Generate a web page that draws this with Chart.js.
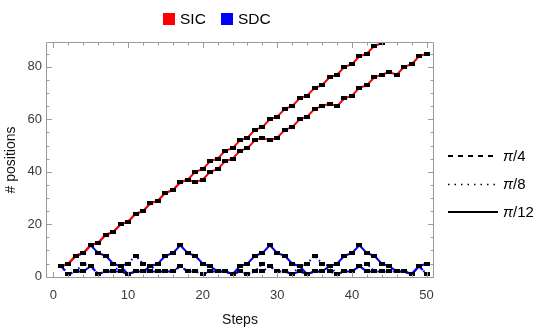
<!DOCTYPE html>
<html><head><meta charset="utf-8">
<script src="https://cdn.jsdelivr.net/npm/chart.js@4.4.0/dist/chart.umd.min.js"></script>
<style>
html,body{margin:0;padding:0;background:#fff;}
#wrap{position:relative;width:545px;height:330px;overflow:hidden;}
#c{position:absolute;left:0;top:0;}
.t{position:absolute;font-family:"Liberation Sans",Arial,sans-serif;color:#000;white-space:nowrap;line-height:18px;}
.box{position:absolute;width:12px;height:12px;}
svg{position:absolute;left:0;top:0;}
</style></head><body>
<div id="wrap">
<canvas id="c" width="545" height="330"></canvas>
<div class="box" style="left:163px;top:13px;background:#ff0000"></div>
<div class="t" style="left:180px;top:10px;font-size:15.5px">SIC</div>
<div class="box" style="left:221px;top:13px;background:#0000ff"></div>
<div class="t" style="left:238px;top:10px;font-size:15.5px">SDC</div>
<svg width="545" height="330">
<line x1="448" y1="156" x2="498" y2="156" stroke="#000" stroke-width="2" stroke-dasharray="5,5"/>
<line x1="448" y1="184.5" x2="498" y2="184.5" stroke="#000" stroke-width="1.5" stroke-dasharray="1.5,5"/>
<line x1="448" y1="212" x2="498" y2="212" stroke="#000" stroke-width="2"/>
</svg>
<div class="t" style="left:503px;top:147px;font-size:15px"><i>π</i>/4</div>
<div class="t" style="left:503px;top:175px;font-size:15px"><i>π</i>/8</div>
<div class="t" style="left:503px;top:203px;font-size:15px"><i>π</i>/12</div>
</div>
<script>
// ---- data ----
const steps = [1,2,3,4,5,6,7,8,9,10,11,12,13,14,15,16,17,18,19,20,21,22,23,24,25,26,27,28,29,30,31,32,33,34,35,36,37,38,39,40,41,42,43,44,45,46,47,48,49,50];
const sicA = [4,5,8,9,12,13,16,17,20,21,24,25,28,29,32,33,36,37,40,41,44,45,48,49,52,53,56,57,60,61,64,65,68,69,72,73,76,77,80,81,84,85,88,89];
const sicB = [4,5,8,9,12,13,16,17,20,21,24,25,28,29,32,33,36,37,36,37,40,41,44,45,48,49,52,53,52,53,56,57,60,61,64,65,66,65,68,69,72,73,76,77,78,77,80,81,84,85];
const sdcA = [4,5,8,9,12,9,8,5,4,1,2,2,4,5,8,9,12,9,8,5,4,2,2,1,4,5,8,9,12,9,8,5,4,1,2,2,4,5,8,9,12,9,8,5,4,2,2,1,4,5];
const sdcB = [4,1,2,2,4,1,2,2,2,1,2,2,2,2,2,2,4,2,2,1,2,2,2,1,2,1,2,2,4,2,2,1,2,1,2,2,2,1,2,2,4,2,2,2,2,2,2,1,4,1];
const sdcC = [4,1,2,5,4,1,2,2,4,5,8,5,4,2,2,2,4,2,2,1,2,2,2,1,2,1,2,5,4,2,2,1,4,5,8,5,4,1,2,2,4,5,2,2,2,2,2,1,4,1];
const xTickLabels = [0,10,20,30,40,50];
const yTickLabels = [0,20,40,60,80];

const pts = v => v.map((y,i)=>({x:steps[i], y}));
const mark = document.createElement('canvas');
mark.width=6; mark.height=4;
(()=>{const g=mark.getContext('2d'); g.fillStyle='#000'; g.fillRect(0,0,6,4);})();
const lineDs = (vals,color,dash)=>({data:pts(vals),borderColor:color,borderWidth:2,borderDash:dash,pointRadius:0,fill:false,tension:0,order:2});
const markDs = (vals)=>({data:pts(vals),showLine:false,pointStyle:mark,pointRadius:3,order:1});

const frame = {
  id:'frame',
  afterDatasetsDraw(chart){
    const {ctx, chartArea:a, scales:{x,y}} = chart;
    ctx.save();
    ctx.strokeStyle='#9a9a9a'; ctx.lineWidth=1;
    const L=Math.round(a.left)+0.5, R=Math.round(a.right)-0.5, T=Math.round(a.top)+0.5, B=Math.round(a.bottom)-0.5;
    ctx.beginPath(); ctx.rect(L,T,R-L,B-T); ctx.stroke();
    ctx.beginPath();
    for(let v=0; v<=50; v+=2){
      const px=Math.round(x.getPixelForValue(v))+0.5, len = v%10===0?5.5:3;
      ctx.moveTo(px,B); ctx.lineTo(px,B-len); ctx.moveTo(px,T); ctx.lineTo(px,T+len);
    }
    for(let v=0; v<=85; v+=5){
      const py=Math.round(y.getPixelForValue(v))+0.5, len = v%20===0?5.5:3;
      ctx.moveTo(L,py); ctx.lineTo(L+len,py); ctx.moveTo(R,py); ctx.lineTo(R-len,py);
    }
    ctx.stroke();
    ctx.restore();
  }
};

new Chart(document.getElementById('c'),{
  type:'line',
  data:{datasets:[
    lineDs(sicA,'#ff0000',[]), lineDs(sicB,'#ff0000',[]),
    lineDs(sdcC,'#0000ff',[1.5,3]), lineDs(sdcB,'#0000ff',[6,3]), lineDs(sdcA,'#0000ff',[]),
    markDs(sicA), markDs(sicB), markDs(sdcA), markDs(sdcB), markDs(sdcC)
  ]},
  options:{
    responsive:false, animation:false, devicePixelRatio:1,
    layout:{padding:{top:42,right:111,left:0,bottom:0}},
    plugins:{legend:{display:false},tooltip:{enabled:false}},
    scales:{
      x:{type:'linear',min:-1,max:51,
        afterBuildTicks:s=>{s.ticks=xTickLabels.map(v=>({value:v}));},
        afterFit:s=>{s.height=52;},
        grid:{display:false,drawTicks:false},border:{display:false},
        ticks:{color:'#3a3a3a',font:{family:'Liberation Sans',size:13},padding:10,maxRotation:0,autoSkip:false},
        title:{display:true,text:'Steps',color:'#111',font:{family:'Liberation Sans',size:14,lineHeight:1},padding:{top:0,bottom:3}}
      },
      y:{type:'linear',min:-0.5,max:89.5,
        afterBuildTicks:s=>{s.ticks=yTickLabels.map(v=>({value:v}));},
        afterFit:s=>{s.width=46;},
        grid:{display:false,drawTicks:false},border:{display:false},
        ticks:{color:'#3a3a3a',font:{family:'Liberation Sans',size:13},padding:4},
        title:{display:true,text:'# positions',color:'#111',font:{family:'Liberation Sans',size:14,lineHeight:1},padding:{top:4,bottom:0}}
      }
    }
  },
  plugins:[frame]
});
</script>
</body></html>
